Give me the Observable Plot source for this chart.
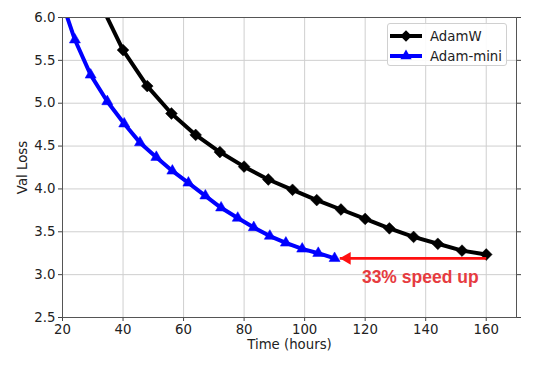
<!DOCTYPE html>
<html>
<head>
<meta charset="utf-8">
<script src="https://cdn.jsdelivr.net/npm/d3@7"></script>
<script src="https://cdn.jsdelivr.net/npm/@observablehq/plot@0.6"></script>
<style>
  html, body { margin: 0; padding: 0; background: #fff; }
  #wrap { position: relative; width: 552px; height: 365px; font-family: "DejaVu Sans", sans-serif; }
  #legend { position: absolute; left: 387px; top: 23px; width: 120px; height: 43px; box-sizing: border-box;
            border: 1px solid #d0d0d0; border-radius: 3px; background: rgba(255,255,255,0.9); font-size: 13.3px; color: #222; }
  .row { position: absolute; left: 2px; height: 20px; display: flex; align-items: center; }
  .row svg { display: block; }
  .row span { margin-left: 8px; }
</style>
</head>
<body>
<div id="wrap"><div id="legend"></div></div>
<script>
// ---- data ----
const adamwHours = [32, 40, 48, 56, 64, 72, 80, 88, 96, 104, 112, 120, 128, 136, 144, 152, 160];
const adamwLoss  = [6.20, 5.62, 5.20, 4.88, 4.63, 4.43, 4.26, 4.11, 3.99, 3.87, 3.76, 3.65, 3.54, 3.44, 3.36, 3.28, 3.235];
const miniHours  = [18.7, 24.1, 29.3, 34.8, 40.4, 45.6, 51.0, 56.3, 61.6, 67.2, 72.4, 77.9, 83.2, 88.5, 93.8, 99.2, 104.5, 109.9];
const miniLoss   = [6.30, 5.74, 5.33, 5.02, 4.76, 4.54, 4.37, 4.21, 4.07, 3.92, 3.78, 3.66, 3.55, 3.45, 3.37, 3.30, 3.25, 3.19];
const seriesNames = ["AdamW", "Adam-mini"];
const xTicks = [20, 40, 60, 80, 100, 120, 140, 160];
const yTicks = [2.5, 3.0, 3.5, 4.0, 4.5, 5.0, 5.5, 6.0];
const arrowFrom = 160, arrowTo = 111.6, arrowLoss = 3.19;
const annotationText = "33% speed up";
const annotationX = 138.2, annotationY = 2.966;

const adamw = adamwHours.map((h, i) => ({hours: h, loss: adamwLoss[i]}));
const mini = miniHours.map((h, i) => ({hours: h, loss: miniLoss[i]}));
const inView = d => d.hours >= 20 && d.loss <= 6.0;

const chart = Plot.plot({
  width: 552,
  height: 365,
  marginLeft: 62,
  marginRight: 36,
  marginTop: 17,
  marginBottom: 48,
  style: {fontFamily: "DejaVu Sans, sans-serif", fontSize: "13px", color: "#222", background: "transparent"},
  x: {domain: [20, 170]},
  y: {domain: [2.5, 6.0]},
  marks: [
    Plot.gridX(xTicks, {stroke: "#cfcfcf", strokeOpacity: 1}),
    Plot.gridY(yTicks, {stroke: "#cfcfcf", strokeOpacity: 1}),
    Plot.axisX({ticks: xTicks, tickSize: 4, tickPadding: 3, fontSize: 13.3, stroke: "#444",
      label: "Time (hours)", labelAnchor: "center", labelArrow: "none", labelOffset: 31}),
    Plot.axisY({ticks: yTicks, tickSize: 4, tickPadding: 3, fontSize: 13.3, tickFormat: d3.format(".1f"), stroke: "#444",
      label: "Val Loss", labelAnchor: "center", labelArrow: "none", labelOffset: 45}),
    Plot.axisY({anchor: "right", ticks: yTicks, tickSize: 4, tickFormat: () => "", stroke: "#444", label: null}),
    Plot.line(adamw, {x: "hours", y: "loss", stroke: "#000", strokeWidth: 4, clip: "frame"}),
    Plot.dot(adamw.filter(inView), {x: "hours", y: "loss", symbol: "diamond2", r: 5.3, fill: "#000", stroke: "#000", strokeWidth: 0.5}),
    Plot.line(mini, {x: "hours", y: "loss", stroke: "#0000ff", strokeWidth: 4, clip: "frame"}),
    Plot.dot(mini.filter(inView), {x: "hours", y: "loss", symbol: "triangle", r: 4.1, fill: "#0000ff", stroke: "#0000ff", strokeWidth: 0.5}),
    Plot.link([{x1: arrowFrom, x2: arrowTo, y: arrowLoss}], {x1: "x1", x2: "x2", y1: "y", y2: "y", stroke: "#ff1010", strokeWidth: 2.6}),
    Plot.dot([{x: arrowTo, y: arrowLoss}], {x: "x", y: "y", symbol: "triangle", r: 4.7, rotate: -90, dx: 7.3, fill: "#ff1010", stroke: "none"}),
    Plot.text([{x: annotationX, y: annotationY, t: annotationText}], {x: "x", y: "y", text: "t", fill: "#e63b40",
      fontSize: 17.5, fontWeight: "bold", fontFamily: "Liberation Sans, Arial, sans-serif"}),
    Plot.frame({stroke: "#555", strokeWidth: 1})
  ]
});
document.getElementById("wrap").prepend(chart);

// legend
const legend = document.getElementById("legend");
const legendColors = ["#000", "#0000ff"];
const legendSymbols = [d3.symbolDiamond2, d3.symbolTriangle];
const legendSizes = [85, 55];
seriesNames.forEach((name, i) => {
  const row = document.createElement("div");
  row.className = "row";
  row.style.top = (i === 0 ? 2 : 22) + "px";
  const svg = d3.create("svg").attr("width", 32).attr("height", 16);
  svg.append("line").attr("x1", 0).attr("x2", 32).attr("y1", 8).attr("y2", 8)
    .attr("stroke", legendColors[i]).attr("stroke-width", 4);
  svg.append("path").attr("d", d3.symbol(legendSymbols[i], legendSizes[i])())
    .attr("transform", "translate(16,8)").attr("fill", legendColors[i]);
  row.appendChild(svg.node());
  const s = document.createElement("span");
  s.textContent = name;
  row.appendChild(s);
  legend.appendChild(row);
});
</script>
</body>
</html>
